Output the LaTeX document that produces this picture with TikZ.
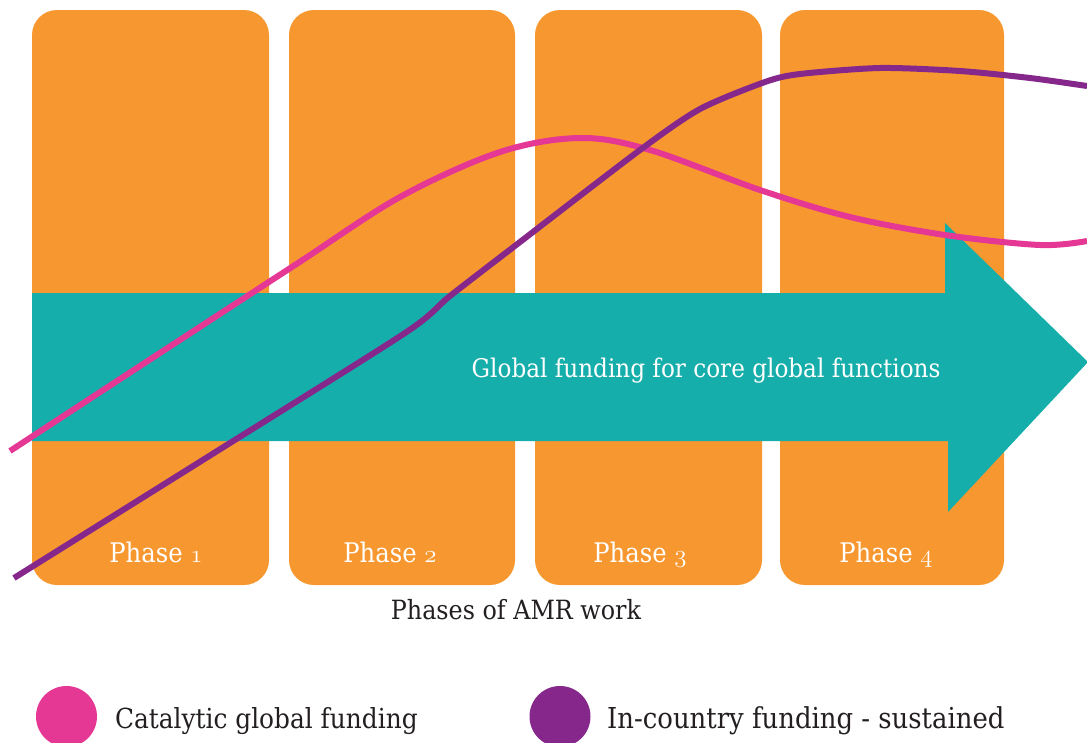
\documentclass[tikz,border=0pt]{standalone}
\usepackage{fontspec}
\setmainfont{DejaVu Serif Condensed}
\newcommand{\osn}[1]{{\usefont{OML}{cmm}{m}{it}\fontsize{32}{34}\selectfont#1}}
\definecolor{phaseorange}{HTML}{F7972F}
\definecolor{arrowteal}{HTML}{16AEAB}
\definecolor{catpink}{HTML}{E53794}
\definecolor{incpurple}{HTML}{86288B}
\definecolor{darktext}{HTML}{231F20}
\tikzset{
  phaselabel/.style={text=white, anchor=base, inner sep=0pt, font=\fontsize{27}{30}\selectfont},
  phasebox/.style={fill=phaseorange, draw=none, rounded corners=25pt, inner sep=0pt, minimum height=575pt},
  arrowlabel/.style={text=white, anchor=base, inner sep=0pt, font=\fontsize{25.7}{30}\selectfont},
  plaintext/.style={text=darktext, anchor=base, inner sep=0pt, font=\fontsize{26.5}{30}\selectfont},
  legendtext/.style={text=darktext, anchor=base west, inner sep=0pt, font=\fontsize{27.6}{30}\selectfont},
  curve/.style={line width=6pt, line cap=butt, line join=round},
  legenddot/.style={circle, inner sep=0pt, minimum size=61pt, draw=none}
}
\begin{document}
\begin{tikzpicture}[x=1pt, y=-1pt]
\useasboundingbox (0,0) rectangle (1087,742);
% phase boxes
\node[phasebox, minimum width=237pt] (b1) at (150.5,297.5) {};
\node[phasebox, minimum width=226pt] (b2) at (402,297.5) {};
\node[phasebox, minimum width=227pt] (b3) at (648.5,297.5) {};
\node[phasebox, minimum width=224pt] (b4) at (892,297.5) {};
% arrow
\fill[arrowteal] (32,293) -- (945,293) -- (945,223) -- (1088,362) -- (948,512) -- (948,441) -- (32,441) -- cycle;
\node[arrowlabel] (arrowtext) at (706,377) {Global funding for core global functions};
% phase labels
\node[phaselabel] (p1) at (156,562) {Phase \osn{1}};
\node[phaselabel] (p2) at (390,562) {Phase \osn{2}};
\node[phaselabel] (p3) at (640,562) {Phase \osn{3}};
\node[phaselabel] (p4) at (886,562) {Phase \osn{4}};
\node[plaintext] (axis) at (516,619) {Phases of AMR work};
% curves
\draw[curve, catpink] plot[smooth, tension=0.55] coordinates {(10,451) (150,359.5) (295,265) (400,197) (500,152) (580,138) (650,150) (760,190) (850,217) (945,235) (1040,245) (1087,241)};
\draw[curve, incpurple] plot[smooth, tension=0.45] coordinates {(14,578) (210,455.5) (405,333) (450,296) (520,242) (640,150) (700,109) (765,82) (800,74) (880,68) (960,71) (1030,78) (1087,86)};
% legend
\node[legenddot, fill=catpink] (d1) at (66.5,716.5) {};
\node[legendtext] (l1) at (115,728) {Catalytic global funding};
\node[legenddot, fill=incpurple] (d2) at (560,716.5) {};
\node[legendtext, font=\fontsize{28.8}{30}\selectfont] (l2) at (607,728) {In-country funding - sustained};
\end{tikzpicture}
\end{document}
